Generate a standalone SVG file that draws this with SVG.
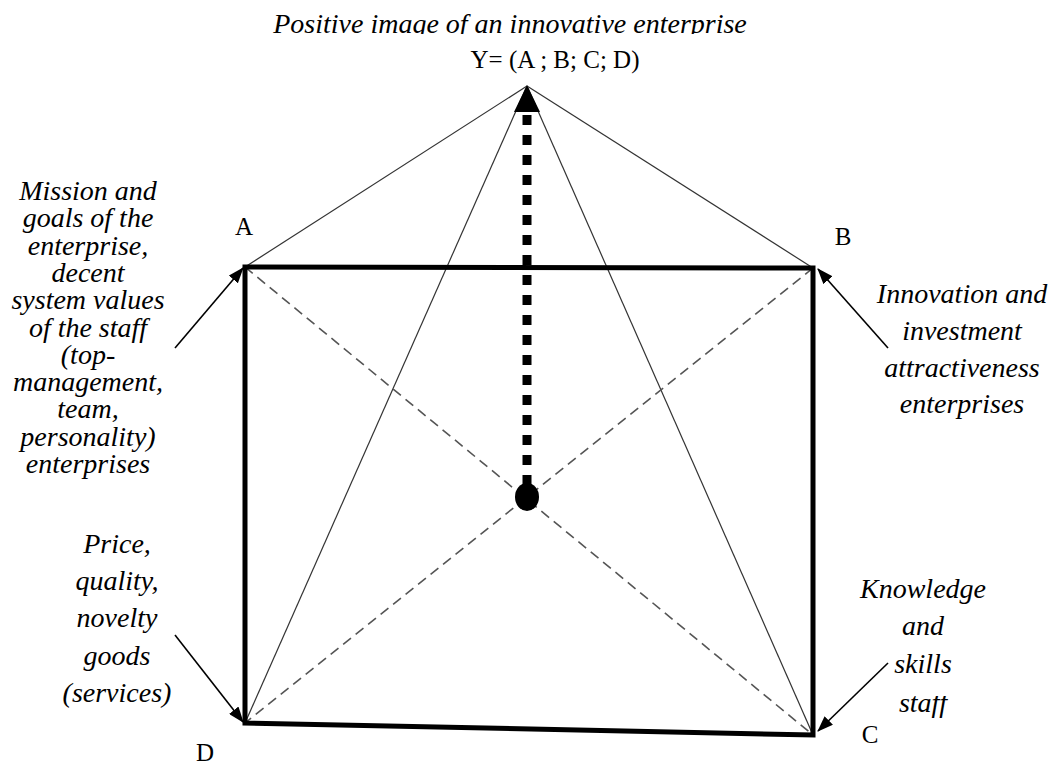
<svg xmlns="http://www.w3.org/2000/svg" width="1053" height="765" viewBox="0 0 1053 765">
<style>
.it{font-family:"Liberation Serif","Times New Roman",serif;font-style:italic;font-size:28px;fill:#000;text-anchor:middle}
.lb{font-family:"Liberation Serif","Times New Roman",serif;font-size:25px;fill:#000;text-anchor:middle}
.thin{stroke:#333;stroke-width:1.2;fill:none}
.dash{stroke:#555;stroke-width:1.6;fill:none;stroke-dasharray:10 6}
.arr{stroke:#000;stroke-width:1.6;fill:none;marker-end:url(#ah)}
</style>
<defs>
<marker id="ah" viewBox="0 0 16 12" refX="15" refY="6" markerWidth="16" markerHeight="12" markerUnits="userSpaceOnUse" orient="auto"><path d="M0,0 L16,6 L0,12 z" fill="#000"/></marker>
<clipPath id="ctop"><rect x="0" y="0" width="1053" height="34"/></clipPath>
<clipPath id="cstaff"><rect x="0" y="696" width="1053" height="69"/></clipPath>
</defs>
<rect width="1053" height="765" fill="#fff"/>
<g id="connectors">
<line class="thin" x1="527" y1="86" x2="245" y2="267"/>
<line class="thin" x1="527" y1="86" x2="813" y2="268"/>
<line class="thin" x1="527" y1="86" x2="245" y2="723"/>
<line class="thin" x1="527" y1="86" x2="813" y2="735"/>
<line class="dash" x1="245" y1="267" x2="813" y2="735"/>
<line class="dash" x1="813" y1="268" x2="245" y2="723"/>
<line x1="527" y1="485" x2="527" y2="110" stroke="#000" stroke-width="9" stroke-dasharray="10 10"/>
<path d="M527,85 L540,112 L514,112 z" fill="#000"/>
<path d="M175,348 L243,268" class="arr"/>
<path d="M888,348 L818,269" class="arr"/>
<path d="M175,635 L243,722" class="arr"/>
<path d="M888,663 L818,731" class="arr"/>
</g>
<g id="frame">
<polygon points="245,267 813,268 813,735 245,723" fill="none" stroke="#000" stroke-width="5" stroke-linejoin="miter"/>
</g>
<g id="center">
<ellipse cx="527" cy="497" rx="12" ry="14" fill="#000"/>
</g>
<g id="top">
<text class="it" x="510" y="33" clip-path="url(#ctop)">Positive image of an innovative enterprise</text>
<text class="lb" x="555" y="68">Y= (A ; B; C; D)</text>
</g>
<g id="nodeA">
<text class="lb" x="244" y="235">A</text>
<text class="it" x="88"><tspan x="88" y="200">Mission and</tspan><tspan x="88" y="227.3">goals of the</tspan><tspan x="88" y="254.6">enterprise,</tspan><tspan x="88" y="281.9">decent</tspan><tspan x="88" y="309.2">system values</tspan><tspan x="88" y="336.5">of the staff</tspan><tspan x="88" y="363.8">(top-</tspan><tspan x="88" y="391.1">management,</tspan><tspan x="88" y="418.4">team,</tspan><tspan x="88" y="445.7">personality)</tspan><tspan x="88" y="473">enterprises</tspan></text>
</g>
<g id="nodeB">
<text class="lb" x="843" y="245">B</text>
<text class="it"><tspan x="962" y="303">Innovation and</tspan><tspan x="962" y="340">investment</tspan><tspan x="962" y="377">attractiveness</tspan><tspan x="962" y="413">enterprises</tspan></text>
</g>
<g id="nodeD">
<text class="lb" x="205" y="761">D</text>
<text class="it"><tspan x="117" y="553">Price,</tspan><tspan x="117" y="590">quality,</tspan><tspan x="117" y="627">novelty</tspan><tspan x="117" y="665">goods</tspan><tspan x="117" y="702">(services)</tspan></text>
</g>
<g id="nodeC">
<text class="lb" x="870" y="743">C</text>
<text class="it"><tspan x="923" y="598">Knowledge</tspan><tspan x="923" y="635">and</tspan><tspan x="923" y="673">skills</tspan></text>
<text class="it" x="923" y="712" clip-path="url(#cstaff)">staff</text>
</g>
</svg>
